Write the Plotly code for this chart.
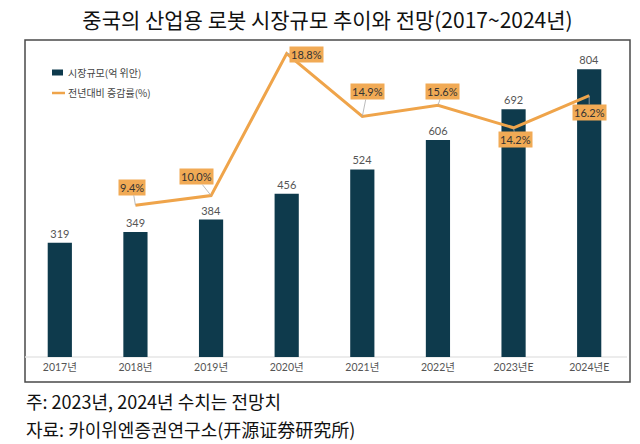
import plotly.graph_objects as go

# ---- data ----
years = ["2017년", "2018년", "2019년", "2020년", "2021년", "2022년", "2023년E", "2024년E"]
market_size = [319, 349, 384, 456, 524, 606, 692, 804]          # 억 위안
growth_years = ["2018년", "2019년", "2020년", "2021년", "2022년", "2023년E", "2024년E"]
growth_rate = [9.4, 10.0, 18.8, 14.9, 15.6, 14.2, 16.2]         # %

title_text = "중국의 산업용 로봇 시장규모 추이와 전망(2017~2024년)"
bar_name = "시장규모(억 위안)"
line_name = "전년대비 증감률(%)"
note1 = "주: 2023년, 2024년 수치는 전망치"
note2 = "자료: 카이위엔증권연구소(开源证券研究所)"

# ---- style ----
W, H = 640, 444
ML, MR, MT, MB = 22, 13, 40, 87
BAR_C = "#0E3A4C"
LINE_C = "#EFA44A"
BOX_C = "#F1AA55"
KFONT = "Noto Sans CJK KR"
NFONT = "Lato, Noto Sans CJK KR"

plot_w = W - ML - MR
plot_h = H - MT - MB


def px_x(p):
    return (p - ML) / plot_w


def px_y(p):
    return (H - MB - p) / plot_h


fig = go.Figure()

fig.add_trace(go.Bar(
    x=years, y=market_size, name=bar_name,
    marker=dict(color=BAR_C, line=dict(width=0)),
    text=[str(v) for v in market_size], textposition="outside",
    textfont=dict(family=NFONT, size=11, color="#555555"),
    cliponaxis=False, showlegend=False, width=0.32,
))

fig.add_trace(go.Scatter(
    x=growth_years, y=growth_rate, name=line_name, yaxis="y2",
    mode="lines", line=dict(color=LINE_C, width=3),
    showlegend=False, cliponaxis=False,
))

# label offsets (pixels) for the growth labels
offsets = [(-3, -18), (-15, -19), (20, 1), (5, -25), (5, -14), (2, 12), (0, 17)]
for xv, yv, (ax, ay) in zip(growth_years, growth_rate, offsets):
    fig.add_annotation(
        x=xv, y=yv, xref="x", yref="y2", text=f"{yv:.1f}%",
        showarrow=True, arrowhead=0, arrowwidth=0.8, arrowcolor="#AAAAAA",
        ax=ax, ay=ay, bgcolor=BOX_C, borderpad=1,
        font=dict(family=NFONT, size=11, color="#333333"),
    )

# frame
fig.add_shape(type="rect", xref="paper", yref="paper",
              x0=px_x(25), x1=px_x(630), y0=px_y(382), y1=px_y(40),
              line=dict(color="#4A4A4A", width=1.5), layer="below")
# baseline
fig.add_shape(type="line", xref="paper", yref="paper",
              x0=px_x(25), x1=px_x(627), y0=px_y(357), y1=px_y(357),
              line=dict(color="#E6E6E6", width=1.5), layer="below")

# custom legend
fig.add_shape(type="rect", xref="paper", yref="paper",
              x0=px_x(52), x1=px_x(63), y0=px_y(75.5), y1=px_y(69.5),
              fillcolor=BAR_C, line=dict(width=0))
fig.add_shape(type="line", xref="paper", yref="paper",
              x0=px_x(52), x1=px_x(65), y0=px_y(93), y1=px_y(93),
              line=dict(color=LINE_C, width=2.5))
fig.add_annotation(x=px_x(66), y=px_y(72), xref="paper", yref="paper",
                   text=bar_name, showarrow=False, xanchor="left", yanchor="middle",
                   font=dict(family=KFONT, size=10, color="#444444"))
fig.add_annotation(x=px_x(66), y=px_y(93), xref="paper", yref="paper",
                   text=line_name, showarrow=False, xanchor="left", yanchor="middle",
                   font=dict(family=KFONT, size=10, color="#444444"))

# notes
fig.add_annotation(x=px_x(24), y=px_y(401), xref="paper", yref="paper",
                   text=note1, showarrow=False, xanchor="left", yanchor="middle",
                   font=dict(family=KFONT, size=18, color="#111111"))
fig.add_annotation(x=px_x(24), y=px_y(429), xref="paper", yref="paper",
                   text=note2, showarrow=False, xanchor="left", yanchor="middle",
                   font=dict(family=KFONT, size=18, color="#111111"))

fig.update_layout(
    width=W, height=H,
    margin=dict(l=ML, r=MR, t=MT, b=MB),
    paper_bgcolor="white", plot_bgcolor="white",
    title=dict(text=title_text, x=327.5 / W, xanchor="center",
               y=1 - 21 / H, yanchor="middle",
               font=dict(family=KFONT, size=21, color="#111111")),
    xaxis=dict(type="category", showgrid=False, showline=False, zeroline=False,
               ticks="", tickfont=dict(family=NFONT, size=10.5, color="#555555"),
               ticklabelstandoff=2),
    yaxis=dict(range=[0, plot_h / 0.358], visible=False, showgrid=False),
    yaxis2=dict(range=[0, plot_h / 16.14], overlaying="y", visible=False, showgrid=False),
    bargap=0.68,
)

fig.write_html("out.html", config={"displayModeBar": False},
               post_script="document.body.style.margin='0';")
